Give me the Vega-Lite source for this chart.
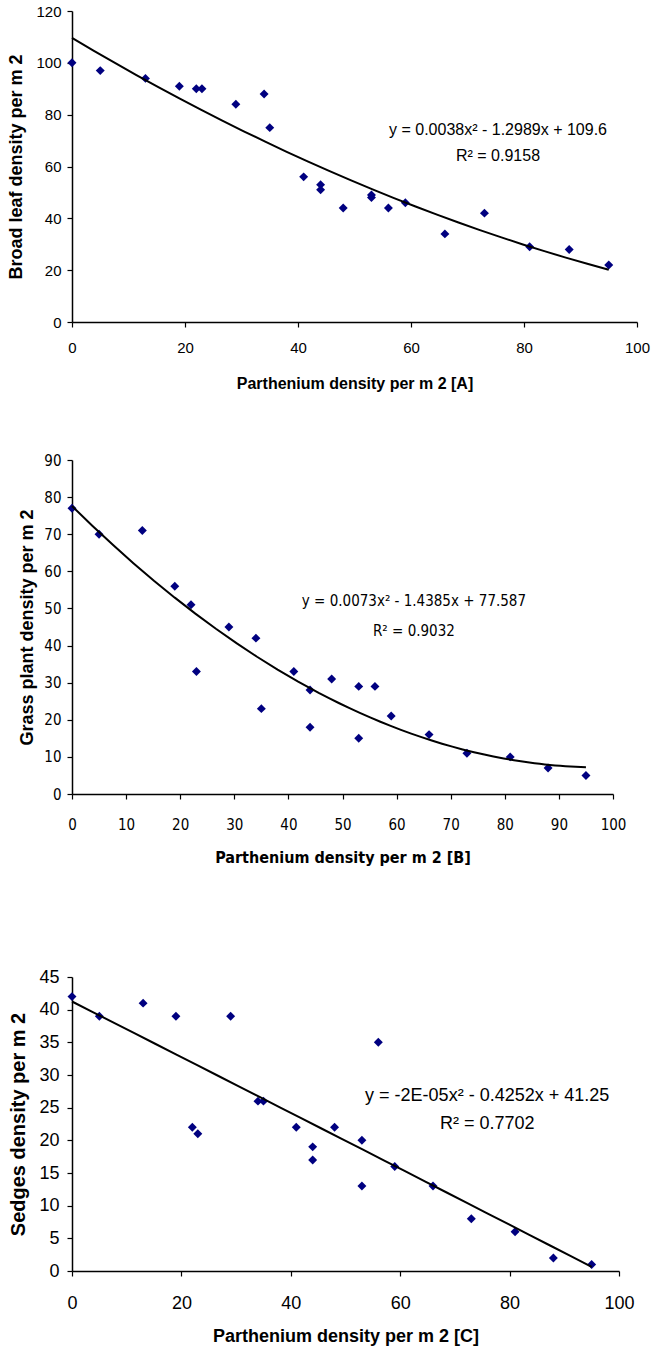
{
  "$schema": "https://vega.github.io/schema/vega-lite/v6.json",
  "background": "white",
  "padding": {"left": 7, "top": 4, "right": 5, "bottom": 2},
  "config": {
    "view": {"stroke": null},
    "axis": {"grid": false, "domainColor": "black", "domainWidth": 1.5, "tickColor": "black", "tickWidth": 1.2, "tickSize": 5, "labelColor": "black", "titleColor": "black", "labelFlush": false, "labelOverlap": false, "titleFontWeight": "bold"}
  },
  "datasets": {
    "A": [
      {"parthenium": 0, "density": 100}, {"parthenium": 5, "density": 97}, {"parthenium": 13, "density": 94},
      {"parthenium": 19, "density": 91}, {"parthenium": 22, "density": 90}, {"parthenium": 23, "density": 90},
      {"parthenium": 29, "density": 84}, {"parthenium": 34, "density": 88}, {"parthenium": 35, "density": 75},
      {"parthenium": 41, "density": 56}, {"parthenium": 44, "density": 53}, {"parthenium": 44, "density": 51},
      {"parthenium": 48, "density": 44}, {"parthenium": 53, "density": 49}, {"parthenium": 53, "density": 48},
      {"parthenium": 56, "density": 44}, {"parthenium": 59, "density": 46}, {"parthenium": 66, "density": 34},
      {"parthenium": 73, "density": 42}, {"parthenium": 81, "density": 29}, {"parthenium": 88, "density": 28},
      {"parthenium": 95, "density": 22}
    ],
    "B": [
      {"parthenium": 0, "density": 77}, {"parthenium": 5, "density": 70}, {"parthenium": 13, "density": 71},
      {"parthenium": 19, "density": 56}, {"parthenium": 22, "density": 51}, {"parthenium": 23, "density": 33},
      {"parthenium": 29, "density": 45}, {"parthenium": 34, "density": 42}, {"parthenium": 35, "density": 23},
      {"parthenium": 41, "density": 33}, {"parthenium": 44, "density": 28}, {"parthenium": 44, "density": 18},
      {"parthenium": 48, "density": 31}, {"parthenium": 53, "density": 29}, {"parthenium": 56, "density": 29},
      {"parthenium": 53, "density": 15}, {"parthenium": 59, "density": 21}, {"parthenium": 66, "density": 16},
      {"parthenium": 73, "density": 11}, {"parthenium": 81, "density": 10}, {"parthenium": 88, "density": 7},
      {"parthenium": 95, "density": 5}
    ],
    "C": [
      {"parthenium": 0, "density": 42}, {"parthenium": 5, "density": 39}, {"parthenium": 13, "density": 41},
      {"parthenium": 19, "density": 39}, {"parthenium": 29, "density": 39}, {"parthenium": 22, "density": 22},
      {"parthenium": 23, "density": 21}, {"parthenium": 34, "density": 26}, {"parthenium": 35, "density": 26},
      {"parthenium": 41, "density": 22}, {"parthenium": 44, "density": 19}, {"parthenium": 44, "density": 17},
      {"parthenium": 48, "density": 22}, {"parthenium": 53, "density": 20}, {"parthenium": 53, "density": 13},
      {"parthenium": 56, "density": 35}, {"parthenium": 59, "density": 16}, {"parthenium": 66, "density": 13},
      {"parthenium": 73, "density": 8}, {"parthenium": 81, "density": 6}, {"parthenium": 88, "density": 2},
      {"parthenium": 95, "density": 1}
    ]
  },
  "concat": [
    {
      "width": 565, "height": 311,
      "layer": [
        {
          "data": {"name": "A"},
          "mark": {"type": "point", "shape": "diamond", "filled": true, "color": "#000080", "size": 80, "opacity": 1},
          "encoding": {
            "x": {"field": "parthenium", "type": "quantitative", "scale": {"domain": [0, 100], "nice": false},
              "axis": {"values": [0, 20, 40, 60, 80, 100], "title": "Parthenium density per m 2 [A]", "labelFont": "Liberation Sans", "labelFontSize": 15, "labelPadding": 13, "titleFont": "Liberation Sans", "titleFontSize": 16, "titlePadding": 20}},
            "y": {"field": "density", "type": "quantitative", "scale": {"domain": [0, 120], "nice": false},
              "axis": {"values": [0, 20, 40, 60, 80, 100, 120], "title": "Broad leaf density per m 2", "labelFont": "Liberation Sans", "labelFontSize": 15, "labelPadding": 6, "titleFont": "Liberation Sans", "titleFontSize": 18, "titlePadding": 10}}
          }
        },
        {
          "data": {"name": "A"},
          "transform": [{"regression": "density", "on": "parthenium", "method": "poly", "order": 2}],
          "mark": {"type": "line", "color": "black", "strokeWidth": 2},
          "encoding": {
            "x": {"field": "parthenium", "type": "quantitative",
              "axis": {"values": [0, 20, 40, 60, 80, 100], "title": "Parthenium density per m 2 [A]", "labelFont": "Liberation Sans", "labelFontSize": 15, "labelPadding": 13, "titleFont": "Liberation Sans", "titleFontSize": 16, "titlePadding": 20}},
            "y": {"field": "density", "type": "quantitative",
              "axis": {"values": [0, 20, 40, 60, 80, 100, 120], "title": "Broad leaf density per m 2", "labelFont": "Liberation Sans", "labelFontSize": 15, "labelPadding": 6, "titleFont": "Liberation Sans", "titleFontSize": 18, "titlePadding": 10}}
          }
        },
        {
          "data": {"values": [{}]},
          "mark": {"type": "text", "font": "Liberation Sans", "fontSize": 16, "align": "center", "baseline": "middle", "color": "black", "lineHeight": 26},
          "encoding": {
            "text": {"value": ["y = 0.0038x² - 1.2989x + 109.6", "R² = 0.9158"]},
            "x": {"datum": 75.4,
              "axis": {"values": [0, 20, 40, 60, 80, 100], "title": "Parthenium density per m 2 [A]", "labelFont": "Liberation Sans", "labelFontSize": 15, "labelPadding": 13, "titleFont": "Liberation Sans", "titleFontSize": 16, "titlePadding": 20}},
            "y": {"datum": 74.2,
              "axis": {"values": [0, 20, 40, 60, 80, 100, 120], "title": "Broad leaf density per m 2", "labelFont": "Liberation Sans", "labelFontSize": 15, "labelPadding": 6, "titleFont": "Liberation Sans", "titleFontSize": 18, "titlePadding": 10}}
          }
        }
      ]
    },
    {
      "width": 541, "height": 334,
      "layer": [
        {
          "data": {"name": "B"},
          "mark": {"type": "point", "shape": "diamond", "filled": true, "color": "#000080", "size": 80, "opacity": 1},
          "encoding": {
            "x": {"field": "parthenium", "type": "quantitative", "scale": {"domain": [0, 100], "nice": false},
              "axis": {"values": [0, 10, 20, 30, 40, 50, 60, 70, 80, 90, 100], "title": "Parthenium density per m 2 [B]", "labelFont": "DejaVu Sans Condensed, Liberation Sans", "labelFontSize": 15, "labelPadding": 18, "titleFont": "DejaVu Sans Condensed, Liberation Sans", "titleFontSize": 16, "titlePadding": 17}},
            "y": {"field": "density", "type": "quantitative", "scale": {"domain": [0, 90], "nice": false},
              "axis": {"values": [0, 10, 20, 30, 40, 50, 60, 70, 80, 90], "title": "Grass plant density per m 2", "labelFont": "DejaVu Sans Condensed, Liberation Sans", "labelFontSize": 15, "labelPadding": 6, "titleFont": "Liberation Sans", "titleFontSize": 18, "titlePadding": 7}}
          }
        },
        {
          "data": {"name": "B"},
          "transform": [{"regression": "density", "on": "parthenium", "method": "poly", "order": 2}],
          "mark": {"type": "line", "color": "black", "strokeWidth": 2},
          "encoding": {
            "x": {"field": "parthenium", "type": "quantitative",
              "axis": {"values": [0, 10, 20, 30, 40, 50, 60, 70, 80, 90, 100], "title": "Parthenium density per m 2 [B]", "labelFont": "DejaVu Sans Condensed, Liberation Sans", "labelFontSize": 15, "labelPadding": 18, "titleFont": "DejaVu Sans Condensed, Liberation Sans", "titleFontSize": 16, "titlePadding": 17}},
            "y": {"field": "density", "type": "quantitative",
              "axis": {"values": [0, 10, 20, 30, 40, 50, 60, 70, 80, 90], "title": "Grass plant density per m 2", "labelFont": "DejaVu Sans Condensed, Liberation Sans", "labelFontSize": 15, "labelPadding": 6, "titleFont": "Liberation Sans", "titleFontSize": 18, "titlePadding": 7}}
          }
        },
        {
          "data": {"values": [{}]},
          "mark": {"type": "text", "font": "DejaVu Sans Condensed, Liberation Sans", "fontSize": 15, "align": "center", "baseline": "middle", "color": "black", "lineHeight": 30},
          "encoding": {
            "text": {"value": ["y = 0.0073x² - 1.4385x + 77.587", "R² = 0.9032"]},
            "x": {"datum": 63.2,
              "axis": {"values": [0, 10, 20, 30, 40, 50, 60, 70, 80, 90, 100], "title": "Parthenium density per m 2 [B]", "labelFont": "DejaVu Sans Condensed, Liberation Sans", "labelFontSize": 15, "labelPadding": 18, "titleFont": "DejaVu Sans Condensed, Liberation Sans", "titleFontSize": 16, "titlePadding": 17}},
            "y": {"datum": 51.9,
              "axis": {"values": [0, 10, 20, 30, 40, 50, 60, 70, 80, 90], "title": "Grass plant density per m 2", "labelFont": "DejaVu Sans Condensed, Liberation Sans", "labelFontSize": 15, "labelPadding": 6, "titleFont": "Liberation Sans", "titleFontSize": 18, "titlePadding": 7}}
          }
        }
      ]
    },
    {
      "width": 547, "height": 294,
      "title": {"text": " ", "fontSize": 10, "offset": 31},
      "layer": [
        {
          "data": {"name": "C"},
          "mark": {"type": "point", "shape": "diamond", "filled": true, "color": "#000080", "size": 80, "opacity": 1},
          "encoding": {
            "x": {"field": "parthenium", "type": "quantitative", "scale": {"domain": [0, 100], "nice": false},
              "axis": {"values": [0, 20, 40, 60, 80, 100], "title": "Parthenium density per m 2 [C]", "labelFont": "Liberation Sans", "labelFontSize": 18, "labelPadding": 18, "titleFont": "Liberation Sans", "titleFontSize": 18, "titlePadding": 15}},
            "y": {"field": "density", "type": "quantitative", "scale": {"domain": [0, 45], "nice": false},
              "axis": {"values": [0, 5, 10, 15, 20, 25, 30, 35, 40, 45], "title": "Sedges density per m 2", "labelFont": "Liberation Sans", "labelFontSize": 18, "labelPadding": 8, "titleFont": "Liberation Sans", "titleFontSize": 20, "titlePadding": 10}}
          }
        },
        {
          "data": {"name": "C"},
          "transform": [{"regression": "density", "on": "parthenium", "method": "poly", "order": 2}],
          "mark": {"type": "line", "color": "black", "strokeWidth": 2},
          "encoding": {
            "x": {"field": "parthenium", "type": "quantitative",
              "axis": {"values": [0, 20, 40, 60, 80, 100], "title": "Parthenium density per m 2 [C]", "labelFont": "Liberation Sans", "labelFontSize": 18, "labelPadding": 18, "titleFont": "Liberation Sans", "titleFontSize": 18, "titlePadding": 15}},
            "y": {"field": "density", "type": "quantitative",
              "axis": {"values": [0, 5, 10, 15, 20, 25, 30, 35, 40, 45], "title": "Sedges density per m 2", "labelFont": "Liberation Sans", "labelFontSize": 18, "labelPadding": 8, "titleFont": "Liberation Sans", "titleFontSize": 20, "titlePadding": 10}}
          }
        },
        {
          "data": {"values": [{}]},
          "mark": {"type": "text", "font": "Liberation Sans", "fontSize": 18, "align": "center", "baseline": "middle", "color": "black", "lineHeight": 28},
          "encoding": {
            "text": {"value": ["y = -2E-05x² - 0.4252x + 41.25", "R² = 0.7702"]},
            "x": {"datum": 75.9,
              "axis": {"values": [0, 20, 40, 60, 80, 100], "title": "Parthenium density per m 2 [C]", "labelFont": "Liberation Sans", "labelFontSize": 18, "labelPadding": 18, "titleFont": "Liberation Sans", "titleFontSize": 18, "titlePadding": 15}},
            "y": {"datum": 26.75,
              "axis": {"values": [0, 5, 10, 15, 20, 25, 30, 35, 40, 45], "title": "Sedges density per m 2", "labelFont": "Liberation Sans", "labelFontSize": 18, "labelPadding": 8, "titleFont": "Liberation Sans", "titleFontSize": 20, "titlePadding": 10}}
          }
        }
      ]
    }
  ],
  "columns": 1,
  "spacing": 62,
  "align": "none"
}
